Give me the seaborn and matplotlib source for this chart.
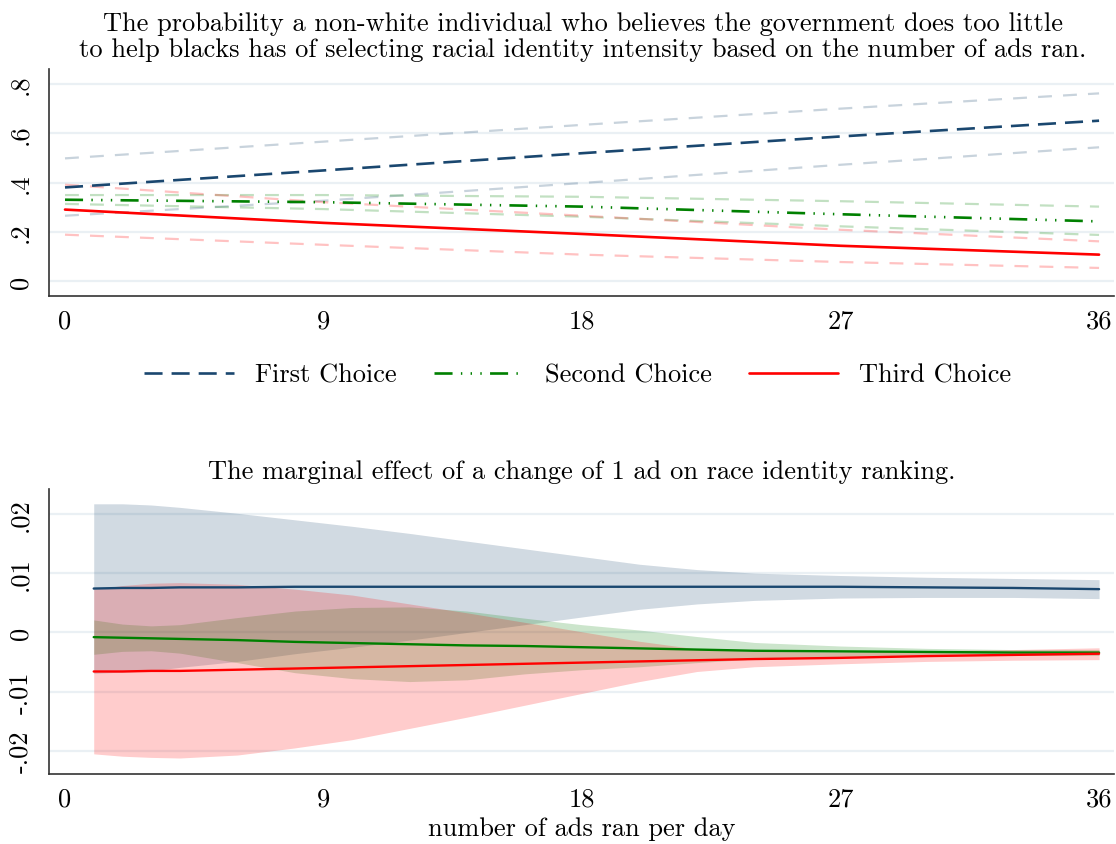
import numpy as np
import pandas as pd
import matplotlib
matplotlib.use("Agg")
import matplotlib.pyplot as plt
import seaborn as sns
from matplotlib.lines import Line2D

# ---------------- data ----------------
# top panel: predicted probabilities
top_x = [0, 9, 18, 27, 36]
first_p = [0.380, 0.449, 0.519, 0.587, 0.651]
first_hi = [0.498, 0.566, 0.634, 0.700, 0.762]
first_lo = [0.265, 0.326, 0.398, 0.472, 0.543]
second_p = [0.330, 0.320, 0.302, 0.271, 0.242]
second_hi = [0.349, 0.349, 0.342, 0.324, 0.302]
second_lo = [0.313, 0.292, 0.261, 0.222, 0.187]
third_p = [0.290, 0.236, 0.191, 0.143, 0.107]
third_hi = [0.391, 0.320, 0.265, 0.208, 0.161]
third_lo = [0.188, 0.147, 0.107, 0.077, 0.053]

# bottom panel: marginal effects
me_x = [1, 2, 3, 4, 6, 8, 10, 12, 14, 16, 18, 20, 22, 24, 27, 30, 33, 36]
first_me = [0.0074, 0.0075, 0.0075, 0.0076, 0.0076, 0.0077, 0.0077, 0.0077, 0.0077, 0.0077,
            0.0077, 0.0077, 0.0077, 0.0077, 0.0077, 0.0076, 0.0075, 0.0073]
first_me_hi = [0.0217, 0.0217, 0.0215, 0.0211, 0.0201, 0.0190, 0.0179, 0.0167, 0.0154, 0.0141,
               0.0128, 0.0115, 0.0106, 0.0100, 0.0096, 0.0093, 0.0091, 0.0089]
first_me_lo = [-0.0069, -0.0067, -0.0065, -0.0059, -0.0049, -0.0036, -0.0025, -0.0013, 0.0000, 0.0013,
               0.0026, 0.0039, 0.0048, 0.0054, 0.0058, 0.0059, 0.0059, 0.0057]
second_me = [-0.0008, -0.0009, -0.0010, -0.0011, -0.0013, -0.0016, -0.0018, -0.0020, -0.0022, -0.0023,
             -0.0025, -0.0027, -0.0029, -0.0031, -0.0032, -0.0033, -0.0034, -0.0034]
second_me_hi = [0.0021, 0.0014, 0.0011, 0.0013, 0.0025, 0.0036, 0.0042, 0.0043, 0.0036, 0.0024,
                0.0013, 0.0004, -0.0007, -0.0017, -0.0023, -0.0027, -0.0029, -0.0029]
second_me_lo = [-0.0037, -0.0032, -0.0031, -0.0035, -0.0051, -0.0068, -0.0078, -0.0083, -0.0080, -0.0070,
                -0.0063, -0.0058, -0.0051, -0.0045, -0.0041, -0.0039, -0.0039, -0.0039]
third_me = [-0.0066, -0.0066, -0.0065, -0.0065, -0.0063, -0.0061, -0.0059, -0.0057, -0.0055, -0.0053,
            -0.0051, -0.0049, -0.0047, -0.0045, -0.0043, -0.0040, -0.0038, -0.0036]
third_me_hi = [0.0073, 0.0079, 0.0083, 0.0084, 0.0081, 0.0073, 0.0063, 0.0048, 0.0033, 0.0017,
               0.0001, -0.0015, -0.0028, -0.0032, -0.0033, -0.0031, -0.0029, -0.0026]
third_me_lo = [-0.0205, -0.0209, -0.0211, -0.0212, -0.0207, -0.0195, -0.0181, -0.0162, -0.0143, -0.0123,
               -0.0103, -0.0083, -0.0066, -0.0058, -0.0053, -0.0049, -0.0047, -0.0046]

series_names = ["First Choice", "Second Choice", "Third Choice"]
x_ticks = [0, 9, 18, 27, 36]
top_yticks = [0, 0.2, 0.4, 0.6, 0.8]
top_ylabels = ["0", ".2", ".4", ".6", ".8"]
bot_yticks = [-0.02, -0.01, 0, 0.01, 0.02]
bot_ylabels = ["-.02", "-.01", "0", ".01", ".02"]

title_top = ("The probability a non-white individual who believes the government does too little\n"
             "to help blacks has of selecting racial identity intensity based on the number of ads ran.")
title_bot = "The marginal effect of a change of 1 ad on race identity ranking."
xlabel = "number of ads ran per day"

# ---------------- style ----------------
sns.set_theme(style="white")
plt.rcParams["font.family"] = ["cmr10", "DejaVu Serif"]
plt.rcParams["axes.unicode_minus"] = False
plt.rcParams["mathtext.fontset"] = "cm"
plt.rcParams["lines.scale_dashes"] = False
plt.rcParams["text.color"] = "black"
plt.rcParams["axes.labelcolor"] = "black"

NAVY = "#1a476f"
GREEN = "#008000"
RED = "#ff0000"
colors = [NAVY, GREEN, RED]
main_dashes = [(13, 6.5), (13, 6, 1, 6, 1, 6, 1, 6), None]
ci_dash = (10, 8)
GRID = "#eaf0f4"
SPINE = "#333333"
FS = 19

fig = plt.figure(figsize=(11.16, 8.45), dpi=100)
ax1 = fig.add_axes([49 / 1116, 1 - 297 / 845, 1065 / 1116, 227 / 845])
ax2 = fig.add_axes([49 / 1116, 1 - 775 / 845, 1065 / 1116, 285 / 845])


def style_axes(ax, yticks, ylabels, ylim):
    ax.set_xlim(-0.557, 36.52)
    ax.set_ylim(*ylim)
    ax.set_xticks(x_ticks)
    ax.set_xticklabels([str(t) for t in x_ticks])
    ax.set_yticks(yticks)
    ax.set_yticklabels(ylabels, rotation=90, va="center")
    ax.yaxis.grid(True, color=GRID, lw=1.6, zorder=0)
    ax.xaxis.grid(False)
    ax.set_axisbelow(True)
    for s in ["top", "right"]:
        ax.spines[s].set_visible(False)
    for s in ["left", "bottom"]:
        ax.spines[s].set_color(SPINE)
        ax.spines[s].set_linewidth(1.2)
    ax.tick_params(axis="both", direction="out", length=7, width=1.1, color=SPINE,
                   labelsize=FS, labelcolor="black")
    ax.tick_params(axis="x", pad=2)
    ax.tick_params(axis="y", pad=5)
    ax.set_xlabel("")
    ax.set_ylabel("")


# ---------------- top panel ----------------
top_main = [first_p, second_p, third_p]
top_hi = [first_hi, second_hi, third_hi]
top_lo = [first_lo, second_lo, third_lo]

for hi, lo, c in zip(top_hi, top_lo, colors):
    for band in (hi, lo):
        sns.lineplot(x=top_x, y=band, ax=ax1, color=c, alpha=0.24, linewidth=1.6,
                     errorbar=None)
        ax1.lines[-1].set_dashes(ci_dash)

handles = []
for vals, c, d, name in zip(top_main, colors, main_dashes, series_names):
    sns.lineplot(x=top_x, y=vals, ax=ax1, color=c, linewidth=1.9, errorbar=None)
    ln = ax1.lines[-1]
    if d is not None:
        ln.set_dashes(d)
    h = Line2D([], [], color=c, linewidth=1.9)
    if d is not None:
        h.set_dashes(d)
    handles.append(h)

style_axes(ax1, top_yticks, top_ylabels, (-0.061, 0.861))

fig.text(583 / 1116, 1 - 37 / 845, title_top, ha="center", va="center",
         fontsize=FS, linespacing=1.1)

fig.legend(handles, series_names, loc="center", bbox_to_anchor=(578 / 1116, 1 - 376 / 845),
           ncol=3, frameon=False, fontsize=FS, handlelength=3.4, handletextpad=0.8,
           columnspacing=1.4)

# ---------------- bottom panel ----------------
bot_main = [first_me, second_me, third_me]
bot_hi = [first_me_hi, second_me_hi, third_me_hi]
bot_lo = [first_me_lo, second_me_lo, third_me_lo]

for hi, lo, c in zip(bot_hi, bot_lo, colors):
    ax2.fill_between(me_x, lo, hi, color=c, alpha=0.2, linewidth=0, zorder=2)

for vals, c in zip(bot_main, colors):
    sns.lineplot(x=me_x, y=vals, ax=ax2, color=c, linewidth=1.7, errorbar=None, zorder=3)

style_axes(ax2, bot_yticks, bot_ylabels, (-0.0239, 0.0242))
ax2.set_xlabel(xlabel, fontsize=FS, labelpad=4)
ax2.set_title(title_bot, fontsize=FS, pad=8)

fig.savefig("out.png", dpi=100, facecolor="white")
